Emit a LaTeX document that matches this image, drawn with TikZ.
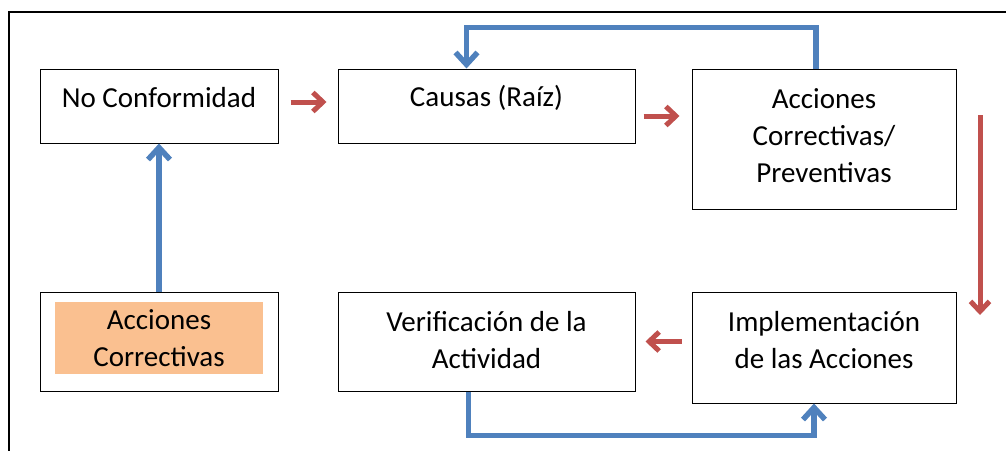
\documentclass[tikz,border=0pt]{standalone}
\usepackage{fontspec}
\setmainfont{Carlito}
\usetikzlibrary{arrows.meta}
\definecolor{redarr}{HTML}{C0504D}
\definecolor{bluearr}{HTML}{4F81BD}
\definecolor{orangefill}{HTML}{FAC090}

\begin{document}
\begin{tikzpicture}[x=1pt,y=-1pt,
  box/.style={draw=black, line width=1pt, inner sep=0pt},
  txt/.style={align=center, font=\fontsize{29}{37}\selectfont, inner sep=0pt},
  redarrow/.style={draw=redarr, line width=5pt, -{Straight Barb[length=10pt,width=19pt]}},
  bluearrow/.style={draw=bluearr, line width=5.5pt, -{Straight Barb[length=12pt,width=22pt]}}]

\useasboundingbox (0,0) rectangle (1006,450);

% Outer frame
\draw[line width=1.2pt] (9,12) rectangle (1030,480);

% Boxes
\node[box, minimum width=238pt, minimum height=74pt] (nc) at (159,106) {};
\node[box, minimum width=297pt, minimum height=74pt] (causas) at (486.5,106) {};
\node[box, minimum width=264pt, minimum height=140pt] (acp) at (824,139) {};
\node[box, minimum width=238pt, minimum height=99pt] (ac) at (159,341.5) {};
\node[box, minimum width=297pt, minimum height=99pt] (ver) at (486.5,341.5) {};
\node[box, minimum width=264pt, minimum height=111pt] (imp) at (824,347.5) {};

% Texts
\node[txt] (nc-t) at ([yshift=8pt]nc.center) {No Conformidad};
\node[txt] (causas-t) at ([yshift=8pt]causas.center) {Causas (Raíz)};
\node[txt] (acp-t) at ([yshift=3pt]acp.center) {Acciones\\Correctivas/\\Preventivas};
\node[txt, fill=orangefill, minimum width=208pt, minimum height=72pt] (ac-t) at (159,338) {Acciones\\Correctivas};
\node[txt] (ver-t) at ([yshift=1pt]ver.center) {Verificación de la\\Actividad};
\node[txt] (imp-t) at ([yshift=7pt]imp.center) {Implementación\\de las Acciones};

% Red flow
\coordinate (rv-a) at (980,115);
\coordinate (rv-b) at (980,315);
\draw[redarrow, shorten <=12pt, shorten >=11pt] ([yshift=4pt]nc.east) -- ([yshift=4pt]nc.east -| causas.west);
\draw[redarrow, shorten <=8pt, shorten >=12pt] ([yshift=-10pt]causas.east) -- ([yshift=-10pt]causas.east -| acp.west);
\draw[redarrow] (rv-a) -- (rv-b);
\draw[redarrow, shorten <=10pt, shorten >=10pt] (imp.west |- ver.east) -- (ver.east);

% Blue loops
\draw[bluearrow] (ac.north) -- (nc.south);
\draw[bluearrow] ([xshift=-8pt]acp.north) -- ++(0,-41) -| ([xshift=-20pt]causas.north);
\draw[bluearrow] ([xshift=-18pt]ver.south) -- ++(0,44) -| ([xshift=-10pt]imp.south);

\end{tikzpicture}
\end{document}
